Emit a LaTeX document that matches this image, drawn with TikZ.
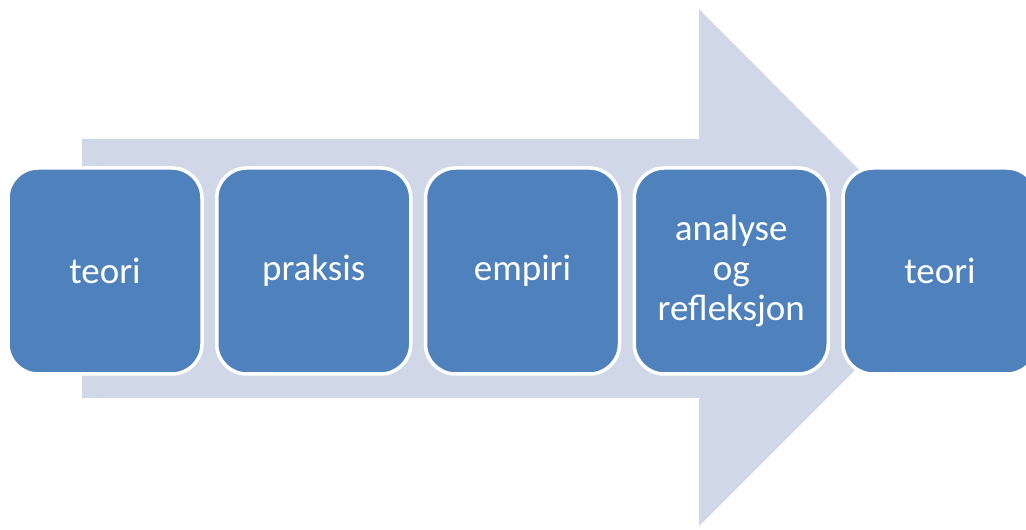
\documentclass[tikz,border=0pt]{standalone}
\usepackage{fontspec}
\setmainfont{Carlito}
\definecolor{arrowfill}{HTML}{D0D8E8}
\definecolor{stepfill}{HTML}{4F81BD}
\tikzset{
  stepbox/.style={draw=white, line width=3.5pt, fill=stepfill, rounded corners=30pt,
    minimum width=194pt, minimum height=206pt, text=white, align=center,
    font=\fontsize{37}{40}\selectfont, inner sep=0pt}
}
\begin{document}
\begin{tikzpicture}[x=1pt,y=1pt]
    \useasboundingbox (0,0) rectangle (1026,530);
    % big background arrow
    \fill[arrowfill] (82,132) -- (82,391) -- (699,391) -- (699,521) -- (957,262)
      -- (699,4) -- (699,132) -- cycle;
    % steps
    \foreach \txt [count=\i] in {teori,praksis,empiri,{analyse\\og\\refleksjon},teori} {
      \node[stepbox] (s\i) at ({105+208.75*(\i-1)},259) {\txt};
    }
  \end{tikzpicture}
\end{document}
